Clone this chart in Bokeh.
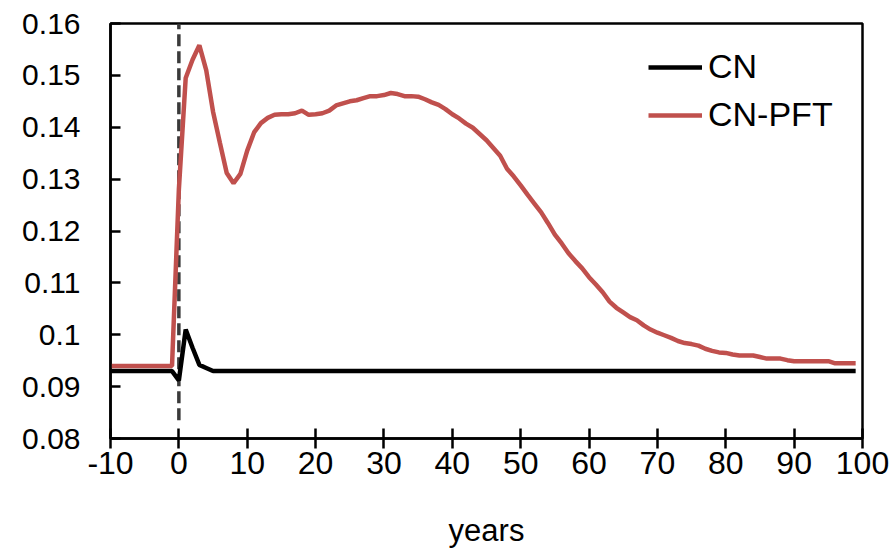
from bokeh.plotting import figure
from bokeh.models import Range1d, FixedTicker, Legend, LegendItem
from bokeh.embed import file_html
from bokeh.resources import INLINE

# ---- data ----
years = list(range(-10, 100))

cn = [0.093] * 9 + [0.093, 0.0912, 0.1010, 0.0975, 0.0942, 0.0936] + [0.093] * 95

cn_pft = [0.094] * 9 + [
    0.094,   # -1
    0.128,   # 0
    0.1495, 0.1530, 0.1558, 0.1510, 0.1430, 0.1370, 0.1312, 0.1292, 0.1310, 0.1355,  # 1-10
    0.1390, 0.1408, 0.1418, 0.1424, 0.1425, 0.1425, 0.1427, 0.1432, 0.1424, 0.1425,  # 11-20
    0.1427, 0.1432, 0.1442, 0.1446, 0.1450, 0.1452, 0.1456, 0.1460, 0.1460, 0.1462,  # 21-30
    0.1466, 0.1464, 0.1460, 0.1460, 0.1459, 0.1454, 0.1448, 0.1443, 0.1435, 0.1425,  # 31-40
    0.1417, 0.1407, 0.1399, 0.1387, 0.1375, 0.1360, 0.1345, 0.1320, 0.1305, 0.1288,  # 41-50
    0.1270, 0.1253, 0.1236, 0.1215, 0.1193, 0.1176, 0.1157, 0.1142, 0.1128, 0.1111,  # 51-60
    0.1097, 0.1082, 0.1064, 0.1052, 0.1043, 0.1034, 0.1028, 0.1018, 0.1010, 0.1004,  # 61-70
    0.0999, 0.0994, 0.0988, 0.0984, 0.0982, 0.0979, 0.0973, 0.0969, 0.0966, 0.0965,  # 71-80
    0.0962, 0.0960, 0.0960, 0.0960, 0.0957, 0.0954, 0.0954, 0.0954, 0.0951, 0.0949,  # 81-90
    0.0949, 0.0949, 0.0949, 0.0949, 0.0949, 0.0945, 0.0945, 0.0945, 0.0945,          # 91-99
]

x_ticks = [-10, 0, 10, 20, 30, 40, 50, 60, 70, 80, 90, 100]
x_tick_labels = ["-10", "0", "10", "20", "30", "40", "50", "60", "70", "80", "90", "100"]
y_ticks = [0.08, 0.09, 0.10, 0.11, 0.12, 0.13, 0.14, 0.15, 0.16]
y_tick_labels = ["0.08", "0.09", "0.1", "0.11", "0.12", "0.13", "0.14", "0.15", "0.16"]

event_year = [0]
event_y0 = [0.0835]
event_y1 = [0.16]

series_names = ["CN", "CN-PFT"]
series_colors = ["#000000", "#C0504D"]

FONT = "Liberation Sans"

p = figure(width=895, height=551, output_backend="svg", toolbar_location=None,
           x_range=Range1d(-10, 100), y_range=Range1d(0.08, 0.16),
           min_border_left=110, min_border_right=33, min_border_top=23, min_border_bottom=113)
p.background_fill_color = "white"
p.border_fill_color = "white"
p.outline_line_color = "black"
p.outline_line_width = 2.5
p.grid.visible = False

# dashed marker at year 0
p.segment(x0=event_year, y0=event_y0, x1=event_year, y1=event_y1,
          line_color="#3a3a3a", line_width=3.5, line_dash="12 5")

r_cn = p.line(years, cn, line_color=series_colors[0], line_width=4.5)
r_pft = p.line(years, cn_pft, line_color=series_colors[1], line_width=4.5)

# axes
xa = p.xaxis[0]
xa.ticker = FixedTicker(ticks=x_ticks)
xa.major_label_overrides = {t: l for t, l in zip(x_ticks, x_tick_labels)}
xa.axis_label = "years"
ya = p.yaxis[0]
ya.ticker = FixedTicker(ticks=y_ticks)
ya.major_label_overrides = {t: l for t, l in zip(y_ticks, y_tick_labels)}

for ax in (xa, ya):
    ax.axis_line_color = "black"
    ax.axis_line_width = 2.5
    ax.major_tick_line_color = "black"
    ax.major_tick_line_width = 2.5
    ax.minor_tick_line_color = None
    ax.major_label_text_font = FONT
    ax.major_label_text_color = "black"
    ax.axis_label_text_font = FONT
    ax.axis_label_text_font_size = "31px"
    ax.axis_label_text_font_style = "normal"
    ax.axis_label_text_color = "black"

xa.major_label_text_font_size = "32px"
ya.major_label_text_font_size = "30px"
xa.major_tick_in = 10
xa.major_tick_out = 10
xa.major_label_standoff = 3
xa.axis_label_standoff = 36
ya.major_tick_in = 10
ya.major_tick_out = 0
ya.major_label_standoff = 30

legend = Legend(items=[LegendItem(label=series_names[0], renderers=[r_cn]),
                       LegendItem(label=series_names[1], renderers=[r_pft])],
                location=(538, 304))
legend.label_text_font = FONT
legend.label_text_font_size = "34px"
legend.label_text_color = "black"
legend.glyph_width = 54
legend.glyph_height = 32
legend.label_height = 32
legend.label_standoff = 6
legend.spacing = 9
legend.padding = 0
legend.margin = 0
legend.border_line_color = None
legend.background_fill_alpha = 0
p.add_layout(legend)

open("out.html", "w").write(file_html(p, INLINE))
